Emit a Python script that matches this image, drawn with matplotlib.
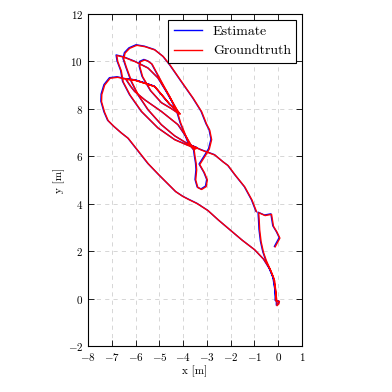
import numpy as np
import matplotlib
matplotlib.use("Agg")
import matplotlib.pyplot as plt
from matplotlib.transforms import offset_copy

plt.rcParams["font.family"] = "serif"
plt.rcParams["font.serif"] = ["cmr10"]
plt.rcParams["mathtext.fontset"] = "cm"
plt.rcParams["axes.formatter.use_mathtext"] = True
plt.rcParams["axes.unicode_minus"] = True

# groundtruth trajectory (x, y) in metres
gt_x = [-0.13, 0.07, -0.05, -0.2, -0.28, -0.55, -0.82,
        -0.8, -0.78, -0.72, -0.62, -0.5, -0.3, -0.15, -0.1, -0.1, 0.05, 0.03, -0.05,
        -0.05, -0.12, -0.2, -0.35, -0.6, -0.98, -1.5, -2.03, -2.5, -2.94, -3.4, -3.75,
        -4.0, -4.3, -4.65, -5.0, -5.46, -5.75, -6.02, -6.3, -6.58, -6.9, -7.15, -7.3,
        -7.43, -7.42, -7.3, -7.07, -6.75, -6.4,
        -6.2, -6.02, -5.6, -4.9, -4.2, -3.85, -3.65,
        -3.4, -3.55, -3.75, -3.9, -4.1, -4.25,
        -4.35, -4.55, -4.83, -5.1, -5.3, -5.46, -5.62, -5.8, -5.82, -5.7, -5.35, -4.9,
        -4.45, -4.22, -4.12,
        -4.22, -4.55, -4.9, -5.18, -5.46, -6.0, -6.4,
        -6.0, -5.46, -5.18, -4.9, -4.55, -4.22,
        -4.41, -4.69, -5.04, -5.46, -6.02, -6.5, -6.79, -6.75, -6.6, -6.52, -6.23, -5.74,
        -5.04, -4.34, -3.78, -3.55,
        -3.5, -3.45, -3.43, -3.47, -3.38, -3.22, -3.03, -2.98, -3.1, -3.3,
        -3.05, -2.9, -2.8, -2.88, -3.01, -3.22, -3.57, -4.06, -4.55, -4.83, -5.18, -5.6,
        -5.95, -6.25, -6.44, -6.5, -6.37, -6.16, -5.88, -5.46, -4.9, -4.34, -3.85, -3.55,
        -3.2, -2.66, -2.3, -2.1, -1.8, -1.4, -1.1, -0.91]
gt_y = [2.18, 2.55, 2.8, 3.05, 3.55, 3.5, 3.62,
        3.3, 2.9, 2.4, 1.95, 1.6, 1.15, 0.75, 0.3, -0.1, -0.12, -0.22, -0.3,
        -0.15, 0.4, 0.9, 1.25, 1.65, 2.05, 2.45, 2.9, 3.3, 3.7, 4.0, 4.17,
        4.3, 4.5, 4.85, 5.2, 5.68, 6.05, 6.4, 6.75, 6.97, 7.25, 7.5, 7.85,
        8.3, 8.6, 9.0, 9.29, 9.33, 9.25,
        8.95, 8.72, 8.37, 7.88, 7.32, 6.8, 6.45,
        6.35, 6.28, 6.5, 6.9, 7.4, 7.9,
        8.1, 8.5, 9.0, 9.5, 9.88, 10.0, 10.06, 9.98, 9.78, 9.35, 8.75, 8.25,
        7.98, 7.82, 7.78,
        7.9, 8.18, 8.6, 8.93, 9.03, 9.2, 9.25,
        9.2, 9.03, 8.93, 8.6, 8.18, 7.9,
        8.23, 8.72, 9.29, 9.71, 9.99, 10.18, 10.25, 10.0, 9.6, 9.14, 8.58, 7.88,
        7.18, 6.69, 6.45, 6.38,
        6.0, 5.7, 5.42, 5.0, 4.68, 4.6, 4.72, 5.0, 5.3, 5.65,
        6.05, 6.3, 6.7, 7.1, 7.35, 7.88, 8.44, 9.14, 9.85, 10.2, 10.48, 10.62,
        10.68, 10.55, 10.35, 10.1, 9.71, 9.14, 8.58, 7.95, 7.32, 6.85, 6.55, 6.4,
        6.25, 6.05, 5.75, 5.6, 5.2, 4.7, 4.15, 3.66]

fig = plt.figure(figsize=(3.92, 3.92), dpi=100)
ax = fig.add_axes([0.2245, 0.1173, 0.5459, 0.847])

# estimate sits almost on top of groundtruth, shown slightly shifted
est_tr = offset_copy(ax.transData, fig=fig, x=-0.5, y=0.4, units="points")
ax.plot(gt_x, gt_y, color="#0000ff", lw=1.0, label="Estimate", transform=est_tr)
ax.plot(gt_x, gt_y, color="#ff0000", lw=1.0, label="Groundtruth")

ax.set_xlim(-8, 1)
ax.set_ylim(-2, 12)
ax.set_xticks(np.arange(-8, 2, 1))
ax.set_yticks(np.arange(-2, 13, 2))
ax.grid(True, color="#d0d0d0", linestyle=(0, (5, 5)), linewidth=0.6)
ax.set_axisbelow(True)
ax.tick_params(direction="in", top=True, right=True, labelsize=8, length=4, width=0.6)
for s in ax.spines.values():
    s.set_linewidth(0.8)
ax.set_xlabel("x [m]", fontsize=8, labelpad=2)
ax.set_ylabel("y [m]", fontsize=8, labelpad=2)

leg = ax.legend(loc="upper right", fontsize=10, fancybox=False, framealpha=1,
                edgecolor="black", borderaxespad=0.4)
leg.get_frame().set_linewidth(0.8)

fig.savefig("out.png", dpi=100)
